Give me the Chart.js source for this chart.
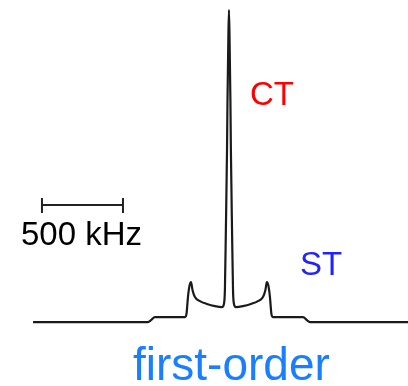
<!DOCTYPE html>
<html>
<head>
<meta charset="utf-8">
<script src="https://cdn.jsdelivr.net/npm/chart.js@4/dist/chart.umd.min.js"></script>
<style>
  html, body { margin: 0; padding: 0; background: #ffffff; }
  canvas { display: block; }
</style>
</head>
<body>
<canvas id="spectrum" width="408" height="386"></canvas>
<script>
// Frequency offset from the central transition (kHz)
const freqKHz = [
  -1209, -500, -481, -457, -271, -262, -253, -244, -234, -225, -210, -179, -136, -86, -43,
  -31, -25, -19, -12, -9, -4, 0, 4, 9, 12, 19, 25, 31,
  43, 86, 136, 179, 210, 225, 234, 244, 253, 262, 271, 457, 481, 500, 1105
];
// Relative intensity (central peak = 100)
const intensity = [
  0, 0, 0.6, 1.6, 1.6, 2.6, 8.0, 11.5, 12.8, 10.3, 8.0, 6.7, 5.8, 5.1, 4.8,
  5.8, 10.3, 29.5, 55, 71, 90, 100, 90, 71, 55, 29.5, 10.3, 5.8,
  4.8, 5.1, 5.8, 6.7, 8.0, 10.3, 12.8, 11.5, 8.0, 2.6, 1.6, 1.6, 0.6, 0, 0
];

// Scale bar: width in kHz and where it starts
const scaleBarKHz = 500;
const scaleBarStart = -1154;
const scaleBarLevel = 37.5;

const points = freqKHz.map((f, i) => ({ x: f, y: intensity[i] }));

const annotations = {
  id: 'annotations',
  afterDatasetsDraw(chart) {
    const { ctx, scales: { x, y } } = chart;
    ctx.save();
    // scale bar
    const x0 = x.getPixelForValue(scaleBarStart);
    const x1 = x.getPixelForValue(scaleBarStart + scaleBarKHz);
    const yb = y.getPixelForValue(scaleBarLevel);
    ctx.strokeStyle = '#222222';
    ctx.lineWidth = 2;
    ctx.beginPath();
    ctx.moveTo(x0, yb); ctx.lineTo(x1, yb);
    ctx.moveTo(x0, yb - 7); ctx.lineTo(x0, yb + 8);
    ctx.moveTo(x1, yb - 7); ctx.lineTo(x1, yb + 8);
    ctx.stroke();

    ctx.textBaseline = 'alphabetic';
    ctx.textAlign = 'left';
    ctx.font = '33px "Liberation Sans", Arial, sans-serif';
    ctx.fillStyle = '#000000';
    ctx.fillText(scaleBarKHz + ' kHz', 21, 245);

    ctx.fillStyle = '#ff0000';
    ctx.fillText('CT', 250, 105);

    ctx.fillStyle = '#2222ff';
    ctx.fillText('ST', 300, 275);

    ctx.font = '46px "Liberation Sans", Arial, sans-serif';
    ctx.fillStyle = '#1a7fff';
    ctx.fillText('first-order', 133, 380);
    ctx.restore();
  }
};

new Chart(document.getElementById('spectrum'), {
  type: 'line',
  data: {
    datasets: [{
      data: points,
      borderColor: '#1a1a1a',
      borderWidth: 2.2,
      pointRadius: 0,
      cubicInterpolationMode: 'monotone',
      fill: false
    }]
  },
  options: {
    responsive: false,
    animation: false,
    layout: { padding: 0 },
    plugins: { legend: { display: false }, tooltip: { enabled: false } },
    scales: {
      x: { type: 'linear', display: false, min: -1413, max: 1105 },
      y: { display: false, min: -20.5, max: 103.2 }
    }
  },
  plugins: [annotations]
});
</script>
</body>
</html>
